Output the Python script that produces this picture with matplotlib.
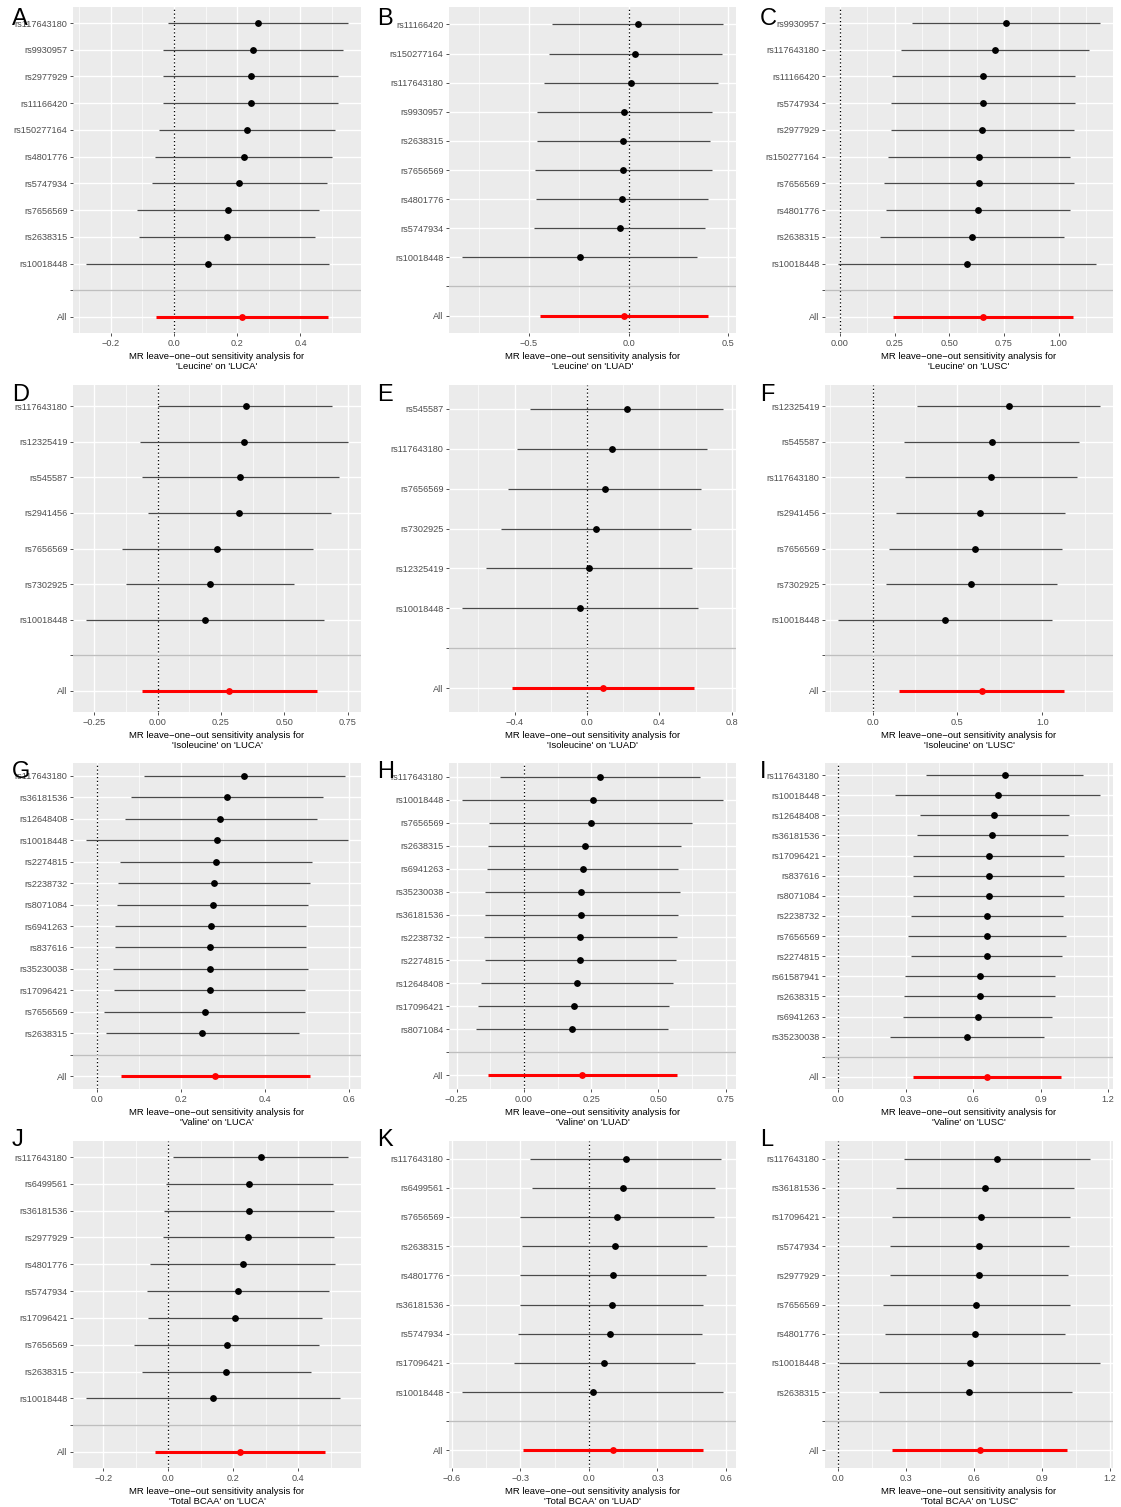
import numpy as np
import matplotlib.pyplot as plt
from matplotlib.ticker import MultipleLocator, FuncFormatter

plt.rcParams['font.family'] = ['Liberation Sans', 'DejaVu Sans']

# A: Leucine on LUCA
A_snp = ['rs117643180', 'rs9930957', 'rs2977929', 'rs11166420', 'rs150277164',
         'rs4801776', 'rs5747934', 'rs7656569', 'rs2638315', 'rs10018448']
A_b = [0.265, 0.250, 0.243, 0.242, 0.230, 0.221, 0.207, 0.170, 0.168, 0.106]
A_lo = [-0.018, -0.036, -0.034, -0.034, -0.047, -0.059, -0.070, -0.117, -0.112, -0.278]
A_hi = [0.550, 0.535, 0.520, 0.519, 0.509, 0.499, 0.484, 0.458, 0.447, 0.490]
A_all = [0.216, -0.056, 0.488]

# B: Leucine on LUAD
B_snp = ['rs11166420', 'rs150277164', 'rs117643180', 'rs9930957', 'rs2638315',
         'rs7656569', 'rs4801776', 'rs5747934', 'rs10018448']
B_b = [0.045, 0.033, 0.010, -0.022, -0.027, -0.027, -0.033, -0.045, -0.246]
B_lo = [-0.383, -0.400, -0.425, -0.462, -0.460, -0.472, -0.465, -0.475, -0.836]
B_hi = [0.473, 0.467, 0.450, 0.420, 0.410, 0.420, 0.398, 0.385, 0.344]
B_all = [-0.023, -0.443, 0.398]

# C: Leucine on LUSC
C_snp = ['rs9930957', 'rs117643180', 'rs11166420', 'rs5747934', 'rs2977929',
         'rs150277164', 'rs7656569', 'rs4801776', 'rs2638315', 'rs10018448']
C_b = [0.759, 0.709, 0.656, 0.655, 0.652, 0.637, 0.635, 0.633, 0.604, 0.580]
C_lo = [0.328, 0.281, 0.238, 0.235, 0.233, 0.218, 0.201, 0.212, 0.183, -0.008]
C_hi = [1.189, 1.140, 1.074, 1.074, 1.072, 1.054, 1.069, 1.054, 1.026, 1.172]
C_all = [0.655, 0.244, 1.066]

# D: Isoleucine on LUCA
D_snp = ['rs117643180', 'rs12325419', 'rs545587', 'rs2941456', 'rs7656569',
         'rs7302925', 'rs10018448']
D_b = [0.347, 0.340, 0.327, 0.321, 0.236, 0.206, 0.187]
D_lo = [0.003, -0.071, -0.061, -0.038, -0.141, -0.126, -0.282]
D_hi = [0.690, 0.751, 0.714, 0.684, 0.613, 0.539, 0.655]
D_all = [0.283, -0.062, 0.631]

# E: Isoleucine on LUAD
E_snp = ['rs545587', 'rs117643180', 'rs7656569', 'rs7302925', 'rs12325419', 'rs10018448']
E_b = [0.219, 0.138, 0.098, 0.050, 0.009, -0.040]
E_lo = [-0.315, -0.385, -0.434, -0.475, -0.558, -0.690]
E_hi = [0.751, 0.663, 0.631, 0.576, 0.580, 0.611]
E_all = [0.088, -0.414, 0.591]

# F: Isoleucine on LUSC
F_snp = ['rs12325419', 'rs545587', 'rs117643180', 'rs2941456', 'rs7656569',
         'rs7302925', 'rs10018448']
F_b = [0.805, 0.702, 0.698, 0.635, 0.604, 0.580, 0.428]
F_lo = [0.264, 0.187, 0.193, 0.138, 0.095, 0.077, -0.203]
F_hi = [1.339, 1.213, 1.203, 1.132, 1.114, 1.085, 1.057]
F_all = [0.643, 0.158, 1.128]

# G: Valine on LUCA
G_snp = ['rs117643180', 'rs36181536', 'rs12648408', 'rs10018448', 'rs2274815',
         'rs2238732', 'rs8071084', 'rs6941263', 'rs837616', 'rs35230038',
         'rs17096421', 'rs7656569', 'rs2638315']
G_b = [0.351, 0.309, 0.294, 0.286, 0.284, 0.278, 0.276, 0.271, 0.270, 0.269,
       0.269, 0.258, 0.250]
G_lo = [0.113, 0.081, 0.067, -0.025, 0.056, 0.050, 0.048, 0.044, 0.044, 0.038,
        0.042, 0.018, 0.022]
G_hi = [0.590, 0.538, 0.523, 0.597, 0.511, 0.506, 0.503, 0.498, 0.497, 0.502,
        0.495, 0.496, 0.480]
G_all = [0.282, 0.057, 0.506]

# H: Valine on LUAD
H_snp = ['rs117643180', 'rs10018448', 'rs7656569', 'rs2638315', 'rs6941263',
         'rs35230038', 'rs36181536', 'rs2238732', 'rs2274815', 'rs12648408',
         'rs17096421', 'rs8071084']
H_b = [0.283, 0.255, 0.248, 0.226, 0.219, 0.214, 0.214, 0.209, 0.209, 0.196,
       0.185, 0.177]
H_lo = [-0.089, -0.230, -0.128, -0.133, -0.137, -0.146, -0.143, -0.149, -0.146,
        -0.161, -0.170, -0.178]
H_hi = [0.656, 0.740, 0.625, 0.585, 0.574, 0.579, 0.573, 0.568, 0.565, 0.555,
        0.540, 0.534]
H_all = [0.217, -0.133, 0.568]

# I: Valine on LUSC
I_snp = ['rs117643180', 'rs10018448', 'rs12648408', 'rs36181536', 'rs17096421',
         'rs837616', 'rs8071084', 'rs2238732', 'rs7656569', 'rs2274815',
         'rs61587941', 'rs2638315', 'rs6941263', 'rs35230038']
I_b = [0.741, 0.709, 0.694, 0.686, 0.671, 0.670, 0.670, 0.662, 0.662, 0.661,
       0.630, 0.630, 0.622, 0.573]
I_lo = [0.393, 0.253, 0.362, 0.353, 0.333, 0.333, 0.333, 0.323, 0.310, 0.323,
        0.296, 0.295, 0.290, 0.232]
I_hi = [1.091, 1.164, 1.026, 1.020, 1.006, 1.006, 1.006, 1.000, 1.015, 0.997,
        0.963, 0.963, 0.953, 0.914]
I_all = [0.661, 0.332, 0.989]

# J: Total BCAA on LUCA
J_snp = ['rs117643180', 'rs6499561', 'rs36181536', 'rs2977929', 'rs4801776',
         'rs5747934', 'rs17096421', 'rs7656569', 'rs2638315', 'rs10018448']
J_b = [0.285, 0.250, 0.247, 0.246, 0.229, 0.214, 0.205, 0.180, 0.178, 0.138]
J_lo = [0.016, -0.006, -0.014, -0.017, -0.055, -0.066, -0.063, -0.104, -0.082, -0.253]
J_hi = [0.553, 0.507, 0.509, 0.509, 0.513, 0.495, 0.473, 0.465, 0.438, 0.529]
J_all = [0.221, -0.040, 0.481]

# K: Total BCAA on LUAD
K_snp = ['rs117643180', 'rs6499561', 'rs7656569', 'rs2638315', 'rs4801776',
         'rs36181536', 'rs5747934', 'rs17096421', 'rs10018448']
K_b = [0.161, 0.149, 0.123, 0.112, 0.104, 0.099, 0.091, 0.067, 0.016]
K_lo = [-0.257, -0.251, -0.302, -0.295, -0.302, -0.302, -0.312, -0.330, -0.556]
K_hi = [0.577, 0.550, 0.547, 0.518, 0.511, 0.501, 0.495, 0.466, 0.587]
K_all = [0.107, -0.288, 0.501]

# L: Total BCAA on LUSC
L_snp = ['rs117643180', 'rs36181536', 'rs17096421', 'rs5747934', 'rs2977929',
         'rs7656569', 'rs4801776', 'rs10018448', 'rs2638315']
L_b = [0.701, 0.648, 0.633, 0.624, 0.621, 0.611, 0.605, 0.581, 0.578]
L_lo = [0.289, 0.254, 0.240, 0.229, 0.227, 0.198, 0.206, 0.004, 0.180]
L_hi = [1.112, 1.041, 1.024, 1.019, 1.013, 1.024, 1.004, 1.156, 1.031]
L_all = [0.625, 0.237, 1.012]

exposures = ['Leucine', 'Isoleucine', 'Valine', 'Total BCAA']
outcomes = ['LUCA', 'LUAD', 'LUSC']

panels = [
    ('A', A_snp, A_b, A_lo, A_hi, A_all, 0.2, 1),
    ('B', B_snp, B_b, B_lo, B_hi, B_all, 0.5, 1),
    ('C', C_snp, C_b, C_lo, C_hi, C_all, 0.25, 2),
    ('D', D_snp, D_b, D_lo, D_hi, D_all, 0.25, 2),
    ('E', E_snp, E_b, E_lo, E_hi, E_all, 0.4, 1),
    ('F', F_snp, F_b, F_lo, F_hi, F_all, 0.5, 1),
    ('G', G_snp, G_b, G_lo, G_hi, G_all, 0.2, 1),
    ('H', H_snp, H_b, H_lo, H_hi, H_all, 0.25, 2),
    ('I', I_snp, I_b, I_lo, I_hi, I_all, 0.3, 1),
    ('J', J_snp, J_b, J_lo, J_hi, J_all, 0.2, 1),
    ('K', K_snp, K_b, K_lo, K_hi, K_all, 0.3, 1),
    ('L', L_snp, L_b, L_lo, L_hi, L_all, 0.3, 1),
]

W, H = 1121, 1507
col_x = [(73, 361), (449, 736), (825, 1113)]
row_y = [(7, 333), (385, 712), (763, 1089), (1141, 1468)]
letter_x = [12, 377, 760]
letter_base = [25, 401, 778, 1146]


def fmt(dec):
    def f(v, pos):
        s = f"{v:.{dec}f}"
        if s.startswith('-'):
            s = s.replace('-', '\u2212') if abs(v) > 1e-9 else s[1:]
        return s
    return FuncFormatter(f)


def loo_plot(ax, snp, b, lo, hi, overall, step, dec, exposure, outcome):
    n = len(snp)
    y = np.arange(n + 2, 2, -1)
    ax.set_facecolor('#EBEBEB')
    ax.hlines(y, lo, hi, color='#4a4a4a', lw=0.9, zorder=3)
    ax.plot(b, y, 'o', color='black', ms=3.9, zorder=4)
    ax.hlines(1, overall[1], overall[2], color='red', lw=2.2, zorder=3)
    ax.plot(overall[0], 1, 'o', color='red', ms=3.9, zorder=4)
    ax.axvline(0, color='black', ls=(0, (1, 2)), lw=0.9, zorder=2)
    ax.axhline(2, color='#BEBEBE', lw=1.0, zorder=2)

    xmin = min(min(lo), overall[1], 0)
    xmax = max(max(hi), overall[2], 0)
    pad = 0.05 * (xmax - xmin)
    ax.set_xlim(xmin - pad, xmax + pad)
    ax.set_ylim(0.4, n + 2.6)

    ax.set_yticks(np.arange(1, n + 3))
    ax.set_yticklabels(['All', ''] + snp[::-1])
    ax.xaxis.set_major_locator(MultipleLocator(step))
    ax.xaxis.set_minor_locator(MultipleLocator(step / 2))
    ax.xaxis.set_major_formatter(fmt(dec))

    ax.set_axisbelow(True)
    ax.grid(which='major', color='white', lw=1.0)
    ax.grid(which='minor', axis='x', color='white', lw=0.5)
    for s in ax.spines.values():
        s.set_visible(False)
    ax.tick_params(which='major', length=2.5, width=0.6, color='#333333',
                   labelsize=6.6, labelcolor='#4D4D4D', pad=1.5)
    ax.tick_params(which='minor', length=0)
    ax.set_xlabel(f"MR leave\u2212one\u2212out sensitivity analysis for\n'{exposure}' on '{outcome}'",
                  fontsize=6.8, labelpad=3.5, linespacing=1.1)


fig = plt.figure(figsize=(W / 100, H / 100), dpi=100)
for k, (letter, snp, b, lo, hi, overall, step, dec) in enumerate(panels):
    r, c = divmod(k, 3)
    x0, x1 = col_x[c]
    y0, y1 = row_y[r]
    ax = fig.add_axes([x0 / W, 1 - y1 / H, (x1 - x0) / W, (y1 - y0) / H])
    loo_plot(ax, snp, b, lo, hi, overall, step, dec, exposures[r], outcomes[c])
    fig.text(letter_x[c] / W, 1 - letter_base[r] / H, letter, fontsize=17,
             va='baseline', ha='left', zorder=10)

fig.savefig('out.png', dpi=100, facecolor='white')
